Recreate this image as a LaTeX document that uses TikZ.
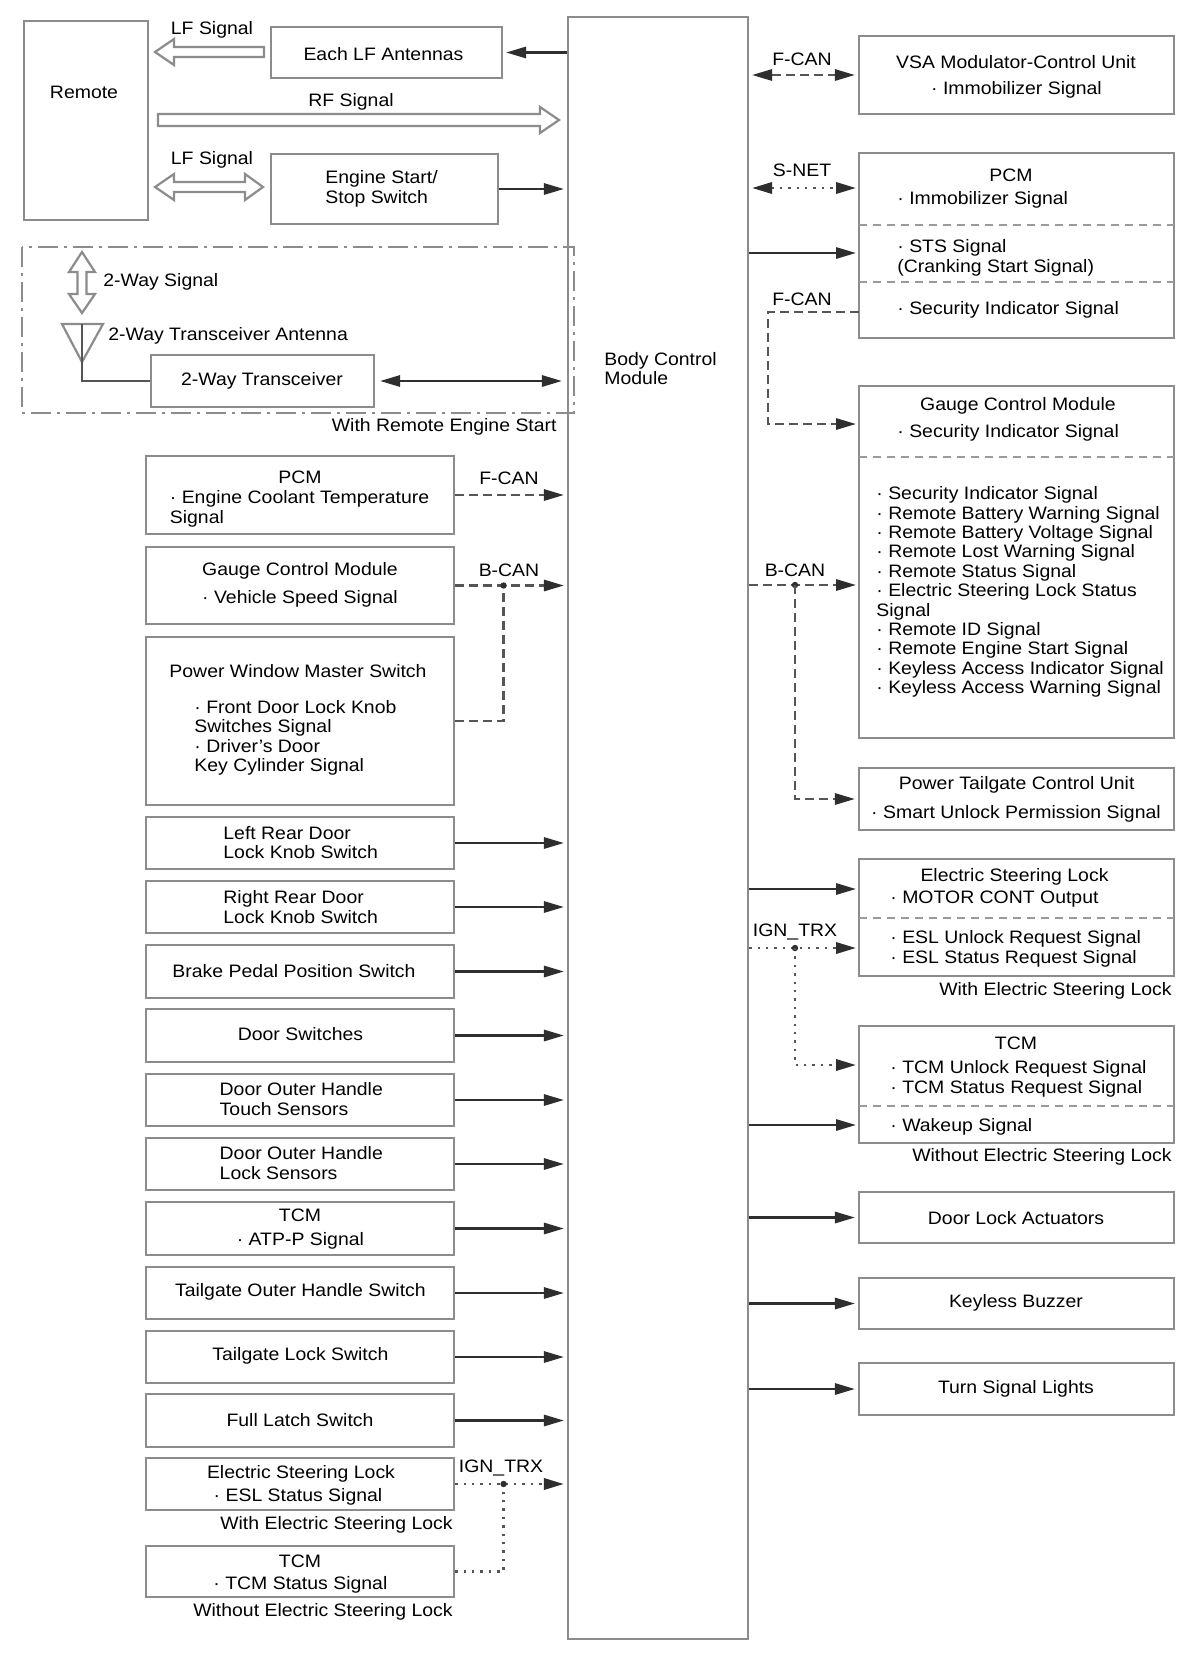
\documentclass[tikz,border=0pt]{standalone}
\usepackage{fontspec}
\setmainfont{Liberation Sans}[FakeStretch=1.08]
\usetikzlibrary{arrows.meta,calc}
\definecolor{bxg}{HTML}{8C8C8C}
\definecolor{lng}{HTML}{2E2E2E}
\definecolor{dsg}{HTML}{555555}
\definecolor{spg}{HTML}{9A9A9A}
\newcommand\bxat[5]{%
  \node[box, minimum width={(#4-#2)*0.5pt}, minimum height={(#5-#3)*0.5pt}] (#1) at ({(#2+#4)/2},{(#3+#5)/2}) {};}
\begin{document}
\begin{tikzpicture}[x=0.5pt,y=-0.5pt,
  font=\fontsize{9pt}{9.7pt}\selectfont,
  >={Triangle[length=10pt,width=5.6pt,color=lng]},
  box/.style={draw=bxg, line width=1.1pt, inner sep=0pt},
  txt/.style={inner sep=0pt, align=left, text=black, yshift=-1pt},
  conn/.style={draw=lng, line width=1.2pt, shorten >=1.5pt},
  dsh/.style={draw=dsg, line width=1.2pt, dash pattern=on 4.5pt off 2.5pt, shorten >=1.5pt},
  dotc/.style={draw=dsg, line width=1.4pt, dash pattern=on 1.2pt off 3pt, shorten >=1.5pt},
  sepl/.style={draw=spg, line width=1pt, dash pattern=on 4pt off 3pt},
  hol/.style={draw=bxg, line width=1.1pt, fill=white, line join=miter},
  dashdot/.style={draw=bxg, line width=1.1pt, dash pattern=on 10pt off 3pt on 1.5pt off 3pt}
]
\fill[white] (0,0) rectangle (1200,1655);
\useasboundingbox (0,0) rectangle (1200,1655);

% ---------- boxes ----------
\bxat{bcm}{568}{17}{748}{1639}
\bxat{remote}{24}{21}{148}{220}
\bxat{lfa}{271}{27}{502}{78}
\bxat{ess}{271}{154}{498}{224}
\bxat{trx}{151}{355}{374}{407}
\bxat{pcmL}{146}{456}{454}{534}
\bxat{gcmL}{146}{547}{454}{624}
\bxat{pwms}{146}{637}{454}{805}
\bxat{lrd}{146}{817}{454}{869}
\bxat{rrd}{146}{881}{454}{933}
\bxat{bpp}{146}{945}{454}{998}
\bxat{dsw}{146}{1009}{454}{1062}
\bxat{doht}{146}{1074}{454}{1126}
\bxat{dohl}{146}{1138}{454}{1190}
\bxat{tcmA}{146}{1202}{454}{1255}
\bxat{tohs}{146}{1267}{454}{1319}
\bxat{tls}{146}{1331}{454}{1383}
\bxat{fls}{146}{1394}{454}{1447}
\bxat{eslL}{146}{1458}{454}{1510}
\bxat{tcmB}{146}{1546}{454}{1597}
\bxat{vsa}{859}{36}{1174}{114}
\bxat{pcmR}{859}{153}{1174}{338}
\bxat{gcmR}{859}{386}{1174}{738}
\bxat{ptcu}{859}{768}{1174}{830}
\bxat{eslR}{859}{859}{1174}{976}
\bxat{tcmR}{859}{1026}{1174}{1143}
\bxat{dla}{859}{1192}{1174}{1243}
\bxat{kbz}{859}{1278}{1174}{1329}
\bxat{tsl}{859}{1363}{1174}{1415}

% separators
\draw[sepl] (859,225) -- (1174,225);
\draw[sepl] (859,282) -- (1174,282);
\draw[sepl] (859,457) -- (1174,457);
\draw[sepl] (859,918) -- (1174,918);
\draw[sepl] (859,1106) -- (1174,1106);

% dash-dot group
\draw[dashdot] (22,247) rectangle (574,413);

% hollow arrows
\draw[hol] (155,52) -- (174,39) -- (174,47) -- (264,47) -- (264,57) -- (174,57) -- (174,65) -- cycle;
\draw[hol] (158,114) -- (540,114) -- (540,107) -- (559,120) -- (540,133) -- (540,126) -- (158,126) -- cycle;
\draw[hol] (155,187) -- (174,174) -- (174,182) -- (245,182) -- (245,174) -- (263,187) -- (245,200) -- (245,192) -- (174,192) -- (174,200) -- cycle;
\draw[hol] (82,252) -- (95,272) -- (86.5,272) -- (86.5,294) -- (95,294) -- (82,313) -- (69,294) -- (77.5,294) -- (77.5,272) -- (69,272) -- cycle;

% antenna
\draw[draw=bxg, line width=1.1pt, line join=miter] (62,324) -- (103,324) -- (82,362) -- cycle;
\coordinate (ant) at (82,324);
\draw[draw=dsg, line width=1.2pt] (ant) |- (trx.west);

% ---------- left connectors ----------
\draw[conn,->] (bcm.west |- lfa.east) -- (lfa.east);
\draw[conn,->] (ess.east) -- (ess.east -| bcm.west);
\draw[conn,<->, shorten <=2.5pt, shorten >=2.5pt] (trx.east) -- (trx.east -| bcm.west);
\draw[dsh,->] (pcmL.east) -- (pcmL.east -| bcm.west);
\draw[dsh,->] (gcmL.east) -- (gcmL.east -| bcm.west);
\coordinate (jBL) at (503.6,585.5);
\draw[dsh, shorten >=0pt] (pwms.east) -| (jBL);
\fill[lng] (jBL) circle[radius=1.6pt];
\foreach \n in {lrd,rrd,bpp,dsw,doht,dohl,tcmA,tohs,tls,fls}
  \draw[conn,->] (\n.east) -- (\n.east -| bcm.west);
\draw[dotc,->] (eslL.east) -- (eslL.east -| bcm.west);
\coordinate (jIL) at (503.6,1484);
\draw[dotc, shorten >=0pt] (tcmB.east) -| (jIL);
\fill[lng] (jIL) circle[radius=1.6pt];

% ---------- right connectors ----------
\draw[dsh,<->, shorten <=1.5pt] (bcm.east |- vsa.west) -- (vsa.west);
\coordinate (pcmRa) at (859,188);
\coordinate (pcmRb) at (859,253);
\coordinate (pcmRc) at (859,312);
\draw[dotc,<->, shorten <=1.5pt] (bcm.east |- pcmRa) -- (pcmRa);
\draw[conn,->] (bcm.east |- pcmRb) -- (pcmRb);
\coordinate (gcmRa) at (859,424);
\coordinate (gcmRb) at (859,585);
\draw[dsh,->] (pcmRc) -- ++(-91,0) |- (gcmRa);
\draw[dsh,->] (bcm.east |- gcmRb) -- (gcmRb);
\coordinate (jBR) at (795,585);
\fill[lng] (jBR) circle[radius=1.6pt];
\draw[dsh,->] (jBR) |- (ptcu.west);
\coordinate (eslRa) at (859,889);
\coordinate (eslRb) at (859,948);
\draw[conn,->] (bcm.east |- eslRa) -- (eslRa);
\draw[dotc,->] (bcm.east |- eslRb) -- (eslRb);
\coordinate (jIR) at (795,948);
\fill[lng] (jIR) circle[radius=1.6pt];
\coordinate (tcmRa) at (859,1065);
\coordinate (tcmRb) at (859,1125);
\draw[dotc,->] (jIR) |- (tcmRa);
\draw[conn,->] (bcm.east |- tcmRb) -- (tcmRb);
\foreach \n in {dla,kbz,tsl}
  \draw[conn,->] (bcm.east |- \n.west) -- (\n.west);

% ---------- texts: left ----------
\node[txt] (t1) at (84,90) {Remote};
\node[txt] (t2) at (383.5,52) {Each LF Antennas};
\node[txt] (t3) at (212,28) {LF Signal};
\node[txt] (t4) at (351,100) {RF Signal};
\node[txt] (t5) at (212,158) {LF Signal};
\node[txt, anchor=west] (t6) at (325,187) {Engine Start/\\Stop Switch};
\node[txt, anchor=west] (t7) at (103,280) {2-Way Signal};
\node[txt, anchor=west] (t8) at (108,334) {2-Way Transceiver Antenna};
\node[txt] (t9) at (262,379) {2-Way Transceiver};
\node[txt, anchor=east] (t10) at (557,425) {With Remote Engine Start};
\node[txt, anchor=west] (t11) at (604,366.5) {Body Control\\Module};
\node[txt] (t12) at (300,475) {PCM};
\node[txt, anchor=west] (t13) at (169.5,507) {· Engine Coolant Temperature\\Signal};
\node[txt] (t14) at (509,476) {F-CAN};
\node[txt] (t15) at (300,569) {Gauge Control Module};
\node[txt] (t16) at (300,597) {· Vehicle Speed Signal};
\node[txt] (t17) at (509,568) {B-CAN};
\node[txt] (t18) at (298,669) {Power Window Master Switch};
\node[txt, anchor=west] (t19) at (194,736) {· Front Door Lock Knob\\Switches Signal\\· Driver’s Door\\Key Cylinder Signal};
\node[txt, anchor=west] (t20) at (223,840.5) {Left Rear Door\\Lock Knob Switch};
\node[txt, anchor=west] (t21) at (223,905) {Right Rear Door\\Lock Knob Switch};
\node[txt] (t22) at (294,969.5) {Brake Pedal Position Switch};
\node[txt] (t23) at (300.5,1032.5) {Door Switches};
\node[txt, anchor=west] (t24) at (219.3,1097) {Door Outer Handle\\Touch Sensors};
\node[txt, anchor=west] (t25) at (219.3,1161) {Door Outer Handle\\Lock Sensors};
\node[txt] (t26) at (300,1213) {TCM};
\node[txt] (t27) at (300.4,1239) {· ATP-P Signal};
\node[txt] (t28) at (300.4,1290) {Tailgate Outer Handle Switch};
\node[txt] (t29) at (300.4,1354) {Tailgate Lock Switch};
\node[txt] (t30) at (300,1418) {Full Latch Switch};
\node[txt] (t31) at (301,1472) {Electric Steering Lock};
\node[txt] (t32) at (298,1495) {· ESL Status Signal};
\node[txt] (t33) at (501,1466) {IGN\_TRX};
\node[txt, anchor=east] (t34) at (453,1523) {With Electric Steering Lock};
\node[txt] (t35) at (300,1559) {TCM};
\node[txt] (t36) at (300.4,1583) {· TCM Status Signal};
\node[txt, anchor=east] (t37) at (453,1610) {Without Electric Steering Lock};

% ---------- texts: right ----------
\node[txt] (r1) at (802,57) {F-CAN};
\node[txt] (r2) at (1016,60) {VSA Modulator-Control Unit};
\node[txt] (r3) at (1016.5,88) {· Immobilizer Signal};
\node[txt] (r4) at (802,168) {S-NET};
\node[txt] (r5) at (1011,173) {PCM};
\node[txt, anchor=west] (r6) at (897,198) {· Immobilizer Signal};
\node[txt, anchor=west] (r7) at (897,256) {· STS Signal\\(Cranking Start Signal)};
\node[txt, anchor=west] (r8) at (897,308) {· Security Indicator Signal};
\node[txt] (r9) at (802,297) {F-CAN};
\node[txt] (r10) at (1018,404) {Gauge Control Module};
\node[txt, anchor=west] (r11) at (897,431) {· Security Indicator Signal};
\node[txt, anchor=west] (r12) at (876,590) {· Security Indicator Signal\\· Remote Battery Warning Signal\\· Remote Battery Voltage Signal\\· Remote Lost Warning Signal\\· Remote Status Signal\\· Electric Steering Lock Status\\Signal\\· Remote ID Signal\\· Remote Engine Start Signal\\· Keyless Access Indicator Signal\\· Keyless Access Warning Signal};
\node[txt] (r13) at (795,568) {B-CAN};
\node[txt] (r14) at (1016.7,783) {Power Tailgate Control Unit};
\node[txt] (r15) at (1016,812) {· Smart Unlock Permission Signal};
\node[txt] (r16) at (1014.5,875) {Electric Steering Lock};
\node[txt, anchor=west] (r17) at (890,897) {· MOTOR CONT Output};
\node[txt, anchor=west] (r18) at (890,947) {· ESL Unlock Request Signal\\· ESL Status Request Signal};
\node[txt] (r19) at (795,930) {IGN\_TRX};
\node[txt, anchor=east] (r20) at (1172,989) {With Electric Steering Lock};
\node[txt] (r21) at (1016,1041) {TCM};
\node[txt, anchor=west] (r22) at (890,1077) {· TCM Unlock Request Signal\\· TCM Status Request Signal};
\node[txt, anchor=west] (r23) at (890,1125) {· Wakeup Signal};
\node[txt, anchor=east] (r24) at (1172,1155) {Without Electric Steering Lock};
\node[txt] (r25) at (1016,1216) {Door Lock Actuators};
\node[txt] (r26) at (1016,1301) {Keyless Buzzer};
\node[txt] (r27) at (1016,1387) {Turn Signal Lights};
\end{tikzpicture}
\end{document}
